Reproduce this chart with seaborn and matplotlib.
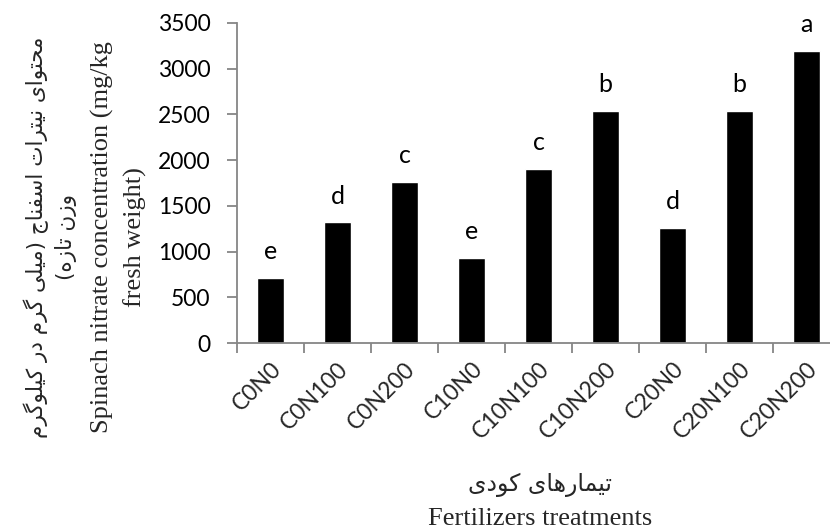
import matplotlib
matplotlib.use('Agg')
import matplotlib.pyplot as plt
import seaborn as sns
import pandas as pd
from matplotlib.ticker import FixedLocator

sns.set_theme(style="white")
plt.rcParams['font.family'] = ['Lato', 'DejaVu Sans']

# data
treatments = ['C0N0', 'C0N100', 'C0N200', 'C10N0', 'C10N100', 'C10N200', 'C20N0', 'C20N100', 'C20N200']
nitrate = [710, 1320, 1765, 935, 1905, 2535, 1260, 2535, 3195]
letters = ['e', 'd', 'c', 'e', 'c', 'b', 'd', 'b', 'a']

ylabel_fa = ['محتوای نیترات اسفناج (میلی گرم در کیلوگرم', 'وزن تازه)']
ylabel_en = ['Spinach nitrate concentration (mg/kg', 'fresh weight)']
xlabel_fa = 'تیمارهای کودی'
xlabel_en = 'Fertilizers treatments'

# matplotlib has no arabic shaping, so pick presentation forms by hand
# (isolated, final, initial, medial)
FORMS = {
    'ا': ('\uFE8D', '\uFE8E', None, None),
    'ت': ('\uFE95', '\uFE96', '\uFE97', '\uFE98'),
    'ج': ('\uFE9D', '\uFE9E', '\uFE9F', '\uFEA0'),
    'ح': ('\uFEA1', '\uFEA2', '\uFEA3', '\uFEA4'),
    'د': ('\uFEA9', '\uFEAA', None, None),
    'ر': ('\uFEAD', '\uFEAE', None, None),
    'ز': ('\uFEAF', '\uFEB0', None, None),
    'س': ('\uFEB1', '\uFEB2', '\uFEB3', '\uFEB4'),
    'ف': ('\uFED1', '\uFED2', '\uFED3', '\uFED4'),
    'ل': ('\uFEDD', '\uFEDE', '\uFEDF', '\uFEE0'),
    'م': ('\uFEE1', '\uFEE2', '\uFEE3', '\uFEE4'),
    'ن': ('\uFEE5', '\uFEE6', '\uFEE7', '\uFEE8'),
    'ه': ('\uFEE9', '\uFEEA', '\uFEEB', '\uFEEC'),
    'و': ('\uFEED', '\uFEEE', None, None),
    'ک': ('\uFB8E', '\uFB8F', '\uFB90', '\uFB91'),
    'گ': ('\uFB92', '\uFB93', '\uFB94', '\uFB95'),
    'ی': ('\uFBFC', '\uFBFD', '\uFBFE', '\uFBFF'),
}


def shape_fa(s):
    out = []
    for i, ch in enumerate(s):
        f = FORMS.get(ch)
        if f is None:
            out.append(ch)
            continue
        prev = s[i-1] if i > 0 else ''
        nxt = s[i+1] if i + 1 < len(s) else ''
        join_prev = prev in FORMS and FORMS[prev][2] is not None
        join_next = f[2] is not None and nxt in FORMS
        if join_prev and join_next:
            out.append(f[3])
        elif join_prev:
            out.append(f[1])
        elif join_next:
            out.append(f[2])
        else:
            out.append(f[0])
    vis = ''.join(out)[::-1]
    return vis.translate(str.maketrans('()', ')('))


df = pd.DataFrame({'treatment': treatments, 'nitrate': nitrate})

W, H = 830, 532
fig = plt.figure(figsize=(W/100, H/100), dpi=100)
# plot area runs past the right edge, like the cropped reference
ax = fig.add_axes([237/W, 1 - 343/H, (840 - 237)/W, (343 - 23)/H])

sns.barplot(data=df, x='treatment', y='nitrate', color='black', width=0.4,
            saturation=1, ax=ax)

for i, (v, l) in enumerate(zip(nitrate, letters)):
    ax.annotate(l, (i, v), xytext=(0, 13.5), textcoords='offset points',
                ha='center', va='baseline', fontsize=18, color='black')

ax.set_xlim(-0.5, len(treatments) - 0.5)
ax.set_ylim(0, 3500)
ax.set_yticks(range(0, 3501, 500))
ax.tick_params(axis='y', labelsize=16.5, length=7, width=1.3, color='#868686',
               direction='out', left=True, pad=12, labelcolor='black')
ax.set_xticks(range(len(treatments)))
ax.set_xticklabels(treatments, rotation=45, ha='right', va='top',
                   rotation_mode='anchor', fontsize=16.5)
ax.tick_params(axis='x', which='major', length=0, pad=11)
ax.xaxis.set_minor_locator(FixedLocator([i - 0.5 for i in range(len(treatments) + 1)]))
ax.tick_params(axis='x', which='minor', length=7, width=1.3, color='#868686',
               direction='out', bottom=True)
ax.set_xlabel('')
ax.set_ylabel('')
sns.despine(ax=ax)
for sp in ['left', 'bottom']:
    ax.spines[sp].set_color('#868686')
    ax.spines[sp].set_linewidth(1.3)

# axis titles (Persian + English), placed like the reference
fa_font = ['DejaVu Sans']
yc = 1 - 237/H
fig.text(36/W, yc, shape_fa(ylabel_fa[0]), rotation=90, ha='center', va='center',
         fontsize=15.5, family=fa_font)
fig.text(66/W, yc, shape_fa(ylabel_fa[1]), rotation=90, ha='center', va='center',
         fontsize=15.5, family=fa_font)
fig.text(102/W, yc, ylabel_en[0], rotation=90, ha='center', va='center',
         fontsize=19, family='Liberation Serif')
fig.text(135/W, yc, ylabel_en[1], rotation=90, ha='center', va='center',
         fontsize=19, family='Liberation Serif')
fig.text(540/W, 1 - 485/H, shape_fa(xlabel_fa), ha='center', va='center',
         fontsize=17, family=fa_font)
fig.text(540/W, 1 - 519/H, xlabel_en, ha='center', va='center',
         fontsize=19, family='Liberation Serif')

fig.savefig('out.png', dpi=100)
